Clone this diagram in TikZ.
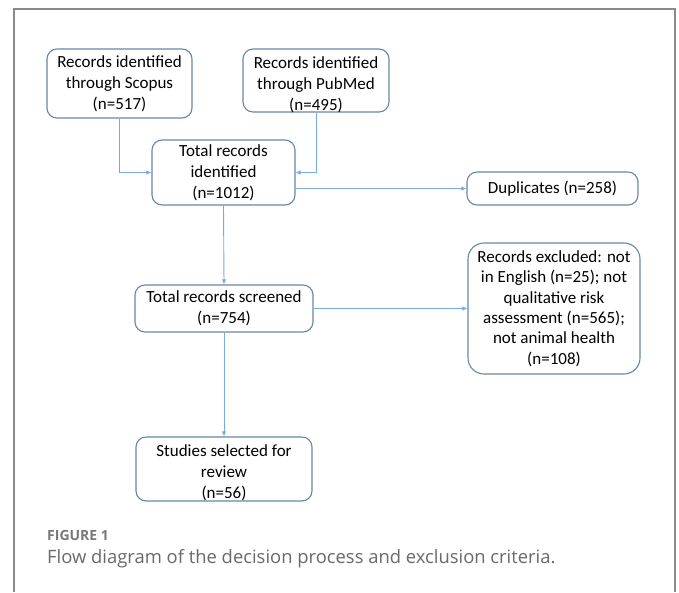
\documentclass[tikz,border=0pt]{standalone}
\usepackage{fontspec}
\setmainfont{Carlito}
\newfontfamily\capfont{Open Sans}
\usepackage{tikz}
\definecolor{Frme}{RGB}{138,138,138}
\definecolor{Bbox}{RGB}{105,135,165}
\definecolor{Arrw}{RGB}{120,170,225}
\definecolor{Capt}{RGB}{105,105,105}
\usetikzlibrary{arrows.meta}

\begin{document}
\begin{tikzpicture}[x=1pt, y=-1pt,
    flowbox/.style={draw=Bbox, line width=1.1pt, rounded corners=10pt,
                    align=center, inner sep=0pt, font=\fontsize{17}{21}\selectfont},
    flowtext/.style={align=center, inner sep=0pt, font=\fontsize{17}{21}\selectfont},
    flowarrow/.style={draw=Arrw, line width=0.9pt,
                    -{Latex[length=5pt, width=4.5pt]}}]
    \useasboundingbox (0,0) rectangle (679,592);
    % frame round the figure
    \draw[Frme, line width=2pt] (14,592) -- (14,9) -- (675,9) -- (675,592);

    % boxes
    \node [flowbox, minimum width=145pt, minimum height=69pt] (scopus) at (119.5,83.5)
            {Records identified\\through Scopus\\(n=517)};
    \node [flowbox, minimum width=146pt, minimum height=63pt] (pubmed) at (316,80.5) {};
    \node [flowtext] (pubmedtext) at (316,85)
            {Records identified\\through PubMed\\(n=495)};
    \node [flowbox, minimum width=143pt, minimum height=65pt] (total) at (223.5,172.5)
            {Total records\\identified\\(n=1012)};
    \node [flowbox, minimum width=171pt, minimum height=33pt] (dup) at (552.5,188.5)
            {Duplicates (n=258)};
    \node [flowbox, minimum width=178pt, minimum height=47pt] (screened) at (224,308.5)
            {Total records screened\\(n=754)};
    \node [flowbox, minimum width=172pt, minimum height=131pt, rounded corners=16pt,
           font=\fontsize{17}{20.4}\selectfont] (excl) at (554,308.5)
            {Records excluded: not\\in English (n=25); not\\qualitative risk\\assessment (n=565);\\not animal health\\(n=108)};
    \node [flowbox, minimum width=176pt, minimum height=64pt] (studies) at (224,469) {};
    \node [flowtext] (studiestext) at (224,473)
            {Studies selected for\\review\\(n=56)};

    % connectors
    \draw [flowarrow] (scopus.south) |- (total.west);
    \draw [flowarrow] (pubmed.south) |- (total.east);
    \draw [flowarrow] (total.east |- dup.west) -- (dup.west);
    \draw [flowarrow] (total.south) -- (screened.north);
    \draw [flowarrow] (screened.east) -- (excl.west);
    \draw [flowarrow] (screened.south) -- (studies.north);

    % caption
    \node [anchor=base west, inner sep=0pt, text=Capt!90,
           font=\capfont\fontsize{14}{16}\selectfont\bfseries] (figlabel) at (47,540) {FIGURE 1};
    \node [anchor=base west, inner sep=0pt, text=Capt,
           font=\capfont\fontsize{18.4}{20}\selectfont] (figcaption) at (47,563)
            {Flow diagram of the decision process and exclusion criteria.};
\end{tikzpicture}
\end{document}
